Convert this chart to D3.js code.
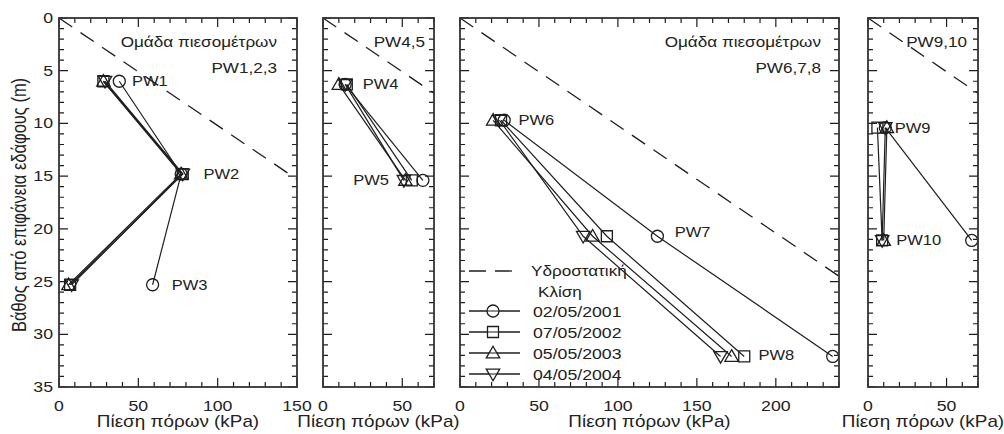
<!DOCTYPE html>
<html>
<head>
<meta charset="utf-8">
<script src="https://cdnjs.cloudflare.com/ajax/libs/d3/7.8.5/d3.min.js"></script>
<style>
  body { margin: 0; background: #fff; }
  svg { display: block; }
  text { font-family: "Liberation Sans", Arial, sans-serif; fill: #222; }
</style>
</head>
<body>
<svg id="chart" width="1004" height="434"></svg>
<script>
// --- data -------------------------------------------------------------
var dates = ["02/05/2001", "07/05/2002", "05/05/2003", "04/05/2004"];
var symbolNames = ["circle", "square", "triangle", "triangleDown"];

var depthTicks = [0, 5, 10, 15, 20, 25, 30, 35];

// hydrostatic line (kPa vs m)
var hydroDepth = [0, 35];
var hydroPressure = [0, 343];

// group PW1,2,3
var wells123 = ["PW1", "PW2", "PW3"];
var depth123 = [6.0, 14.8, 25.3];
var pressure123 = [
  [38, 77, 59],
  [28, 78, 7],
  [28, 77, 6],
  [29, 78, 8]
];
var ticks123 = [0, 50, 100, 150];

// group PW4,5
var wells45 = ["PW4", "PW5"];
var depth45 = [6.3, 15.4];
var pressure45 = [
  [14, 63],
  [15, 56],
  [10, 52],
  [14, 51]
];
var ticks45 = [0, 50];

// group PW6,7,8
var wells678 = ["PW6", "PW7", "PW8"];
var depth678 = [9.7, 20.7, 32.1];
var pressure678 = [
  [28, 125, 236],
  [26, 93, 180],
  [21, 84, 172],
  [25, 78, 165]
];
var ticks678 = [0, 50, 100, 150, 200];

// group PW9,10
var wells910 = ["PW9", "PW10"];
var depth910 = [10.4, 21.1];
var pressure910 = [
  [11, 66],
  [6, 9],
  [12, 10],
  [11, 9]
];
var ticks910 = [0, 50];

// --- layout -----------------------------------------------------------
var plotTop = 18, plotBottom = 387;
var sx = 1.18; // horizontal stretch of the lettering
var ink = "#1e1e1e";

var panels = [
  { x0: 59, x1: 297, max: 150, ticks: ticks123, wells: wells123, depth: depth123, pressure: pressure123,
    title: ["Ομάδα πιεσομέτρων", "PW1,2,3"], titleRight: 20,
    labels: [[46, 0], [91, 0], [71, 0]] },
  { x0: 323, x1: 434, max: 70, ticks: ticks45, wells: wells45, depth: depth45, pressure: pressure45,
    title: ["PW4,5"], titleRight: 9,
    labels: [[25, 0], [19, 0]] },
  { x0: 460, x1: 839, max: 240, ticks: ticks678, wells: wells678, depth: depth678, pressure: pressure678,
    title: ["Ομάδα πιεσομέτρων", "PW6,7,8"], titleRight: 18,
    labels: [[37, 0], [136, -0.4], [189, -0.1]] },
  { x0: 868, x1: 978, max: 70, ticks: ticks910, wells: wells910, depth: depth910, pressure: pressure910,
    title: ["PW9,10"], titleRight: 11,
    labels: [[17, 0], [18, 0]] }
];

var svg = d3.select("#chart");
var y = d3.scaleLinear().domain([0, 35]).range([plotTop, plotBottom]);

function symbolPath(name) {
  if (name == "circle") return d3.symbol().type(d3.symbolCircle).size(113)();
  if (name == "square") return d3.symbol().type(d3.symbolSquare).size(121)();
  return d3.symbol().type(d3.symbolTriangle).size(78)();
}
function symbolTransform(name, px, py) {
  var t = "translate(" + px + "," + py + ")";
  if (name == "triangle") t += " translate(0,1)";
  if (name == "triangleDown") t += " translate(0,-1) rotate(180)";
  return t;
}

function addText(g, str, x, yy, size, anchor) {
  return g.append("text")
    .attr("transform", "translate(" + x + "," + yy + ") scale(" + sx + ",1)")
    .attr("text-anchor", anchor || "start")
    .style("font-size", size + "px")
    .text(str);
}

panels.forEach(function (p, i) {
  var x = d3.scaleLinear().domain([0, p.max]).range([p.x0, p.x1]);
  var g = svg.append("g");
  var clipId = "clip" + i;
  svg.append("clipPath").attr("id", clipId)
    .append("rect").attr("x", p.x0).attr("y", plotTop).attr("width", p.x1 - p.x0).attr("height", plotBottom - plotTop);

  // minor / major ticks, inward on all four sides
  var xt = d3.range(0, p.max + 0.1, 10);
  g.selectAll(".xtick").data(xt).enter().append("path")
    .attr("d", function (d) {
      var L = d % 50 == 0 ? 9 : 5, px = x(d);
      return "M" + px + "," + plotBottom + "v" + (-L) + "M" + px + "," + plotTop + "v" + L;
    })
    .attr("stroke", ink).attr("stroke-width", 1.2);
  var yt = d3.range(0, 35.1, 1);
  g.selectAll(".ytick").data(yt).enter().append("path")
    .attr("d", function (d) {
      var L = d % 5 == 0 ? 9 : 5, py = y(d);
      return "M" + p.x0 + "," + py + "h" + L + "M" + p.x1 + "," + py + "h" + (-L);
    })
    .attr("stroke", ink).attr("stroke-width", 1.2);

  // hydrostatic line
  var plot = g.append("g").attr("clip-path", "url(#" + clipId + ")");
  plot.append("path")
    .datum(d3.zip(hydroPressure, hydroDepth))
    .attr("d", d3.line().x(function (d) { return x(d[0]); }).y(function (d) { return y(d[1]); }))
    .attr("fill", "none").attr("stroke", ink).attr("stroke-width", 1.3)
    .attr("stroke-dasharray", "16,10");

  // series
  p.pressure.forEach(function (vals, s) {
    var pts = vals.map(function (v, k) { return [v, p.depth[k]]; });
    plot.append("path")
      .datum(pts)
      .attr("d", d3.line().x(function (d) { return x(d[0]); }).y(function (d) { return y(d[1]); }))
      .attr("fill", "none").attr("stroke", ink).attr("stroke-width", 1.2);
    plot.selectAll(".m" + s).data(pts).enter().append("path")
      .attr("d", symbolPath(symbolNames[s]))
      .attr("transform", function (d) { return symbolTransform(symbolNames[s], x(d[0]), y(d[1])); })
      .attr("fill", "none").attr("stroke", ink).attr("stroke-width", 1.3);
  });

  // frame
  g.append("rect").attr("x", p.x0).attr("y", plotTop).attr("width", p.x1 - p.x0).attr("height", plotBottom - plotTop)
    .attr("fill", "none").attr("stroke", "#333").attr("stroke-width", 1.8);

  // well labels
  p.wells.forEach(function (w, k) {
    addText(g, w, x(p.labels[k][0]), y(p.depth[k] + p.labels[k][1]) + 5, 14);
  });

  // group title
  p.title.forEach(function (t, k) {
    addText(g, t, p.x1 - p.titleRight, 47 + k * 26, 14.5, "end");
  });

  // x tick labels and title
  p.ticks.forEach(function (t) {
    addText(g, String(t), x(t), 411, 15, "middle");
  });
  addText(g, "Πίεση πόρων (kPa)", (p.x0 + p.x1) / 2, 427, 16, "middle");

  if (i == 0) {
    depthTicks.forEach(function (t) {
      addText(g, String(t), p.x0 - 6, y(t) + 5, 15, "end");
    });
  }
});

// y axis title
svg.append("text")
  .attr("transform", "translate(26,205) scale(" + sx + ",1) rotate(-90)")
  .attr("text-anchor", "middle")
  .style("font-size", "16.5px")
  .text("Βάθος από επιφάνεια εδάφους (m)");

// legend (inside the PW6,7,8 panel)
var lg = svg.append("g");
lg.append("line").attr("x1", 469).attr("x2", 514).attr("y1", 271).attr("y2", 271)
  .attr("stroke", ink).attr("stroke-width", 1.3).attr("stroke-dasharray", "17,9");
addText(lg, "Υδροστατική", 531, 276, 14.5);
addText(lg, "Κλίση", 538, 297, 14.5);
dates.forEach(function (d, s) {
  var ly = 311 + s * 21;
  lg.append("line").attr("x1", 469).attr("x2", 520).attr("y1", ly).attr("y2", ly)
    .attr("stroke", ink).attr("stroke-width", 1.2);
  lg.append("path").attr("d", symbolPath(symbolNames[s]))
    .attr("transform", symbolTransform(symbolNames[s], 493, ly))
    .attr("fill", "#fff").attr("stroke", ink).attr("stroke-width", 1.3);
  lg.append("line").attr("x1", 469).attr("x2", 520).attr("y1", ly).attr("y2", ly)
    .attr("stroke", ink).attr("stroke-width", 1.2);
  addText(lg, d, 533, ly + 5.5, 15);
});
</script>
</body>
</html>
